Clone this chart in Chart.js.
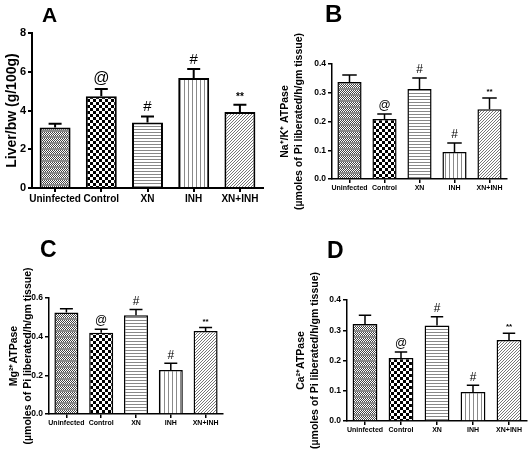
<!DOCTYPE html>
<html>
<head>
<meta charset="utf-8">
<script src="https://cdn.jsdelivr.net/npm/chart.js@4.4.1/dist/chart.umd.min.js"></script>
<style>
  html, body { margin: 0; padding: 0; background: #fff; }
  #wrap { position: relative; width: 529px; height: 460px; }
  #wrap canvas { position: absolute; }
</style>
</head>
<body>
<div id="wrap">
  <canvas id="chartA" width="265" height="230" style="left:0;top:0"></canvas>
  <canvas id="chartB" width="264" height="230" style="left:265px;top:0"></canvas>
  <canvas id="chartC" width="265" height="230" style="left:0;top:230px"></canvas>
  <canvas id="chartD" width="264" height="230" style="left:265px;top:230px"></canvas>
</div>
<script>
// ---- data ----
const groups = ['Uninfected', 'Control', 'XN', 'INH', 'XN+INH'];
const marks = ['', '@', '#', '#', '**'];

const liverBw = [3.12, 4.73, 3.38, 5.68, 3.92];
const liverBwSem = [0.20, 0.38, 0.31, 0.46, 0.38];

const naKAtpase = [0.337, 0.209, 0.313, 0.094, 0.243];
const naKSem = [0.025, 0.017, 0.038, 0.031, 0.039];

const mgAtpase = [0.525, 0.420, 0.511, 0.228, 0.429];
const mgSem = [0.020, 0.019, 0.029, 0.034, 0.019];

const caAtpase = [0.321, 0.208, 0.316, 0.096, 0.268];
const caSem = [0.029, 0.020, 0.029, 0.022, 0.022];

const ticksA = [0, 2, 4, 6, 8];
const ticksB = [0, 0.1, 0.2, 0.3, 0.4];
const ticksC = [0, 0.2, 0.4, 0.6];
const ticksD = [0, 0.1, 0.2, 0.3, 0.4];

const FONT = "'Liberation Sans', Arial, sans-serif";
Chart.defaults.font.family = FONT;
Chart.defaults.color = '#000';

// fill patterns, one per group
function makePattern(kind) {
  const c = document.createElement('canvas');
  const g = c.getContext('2d');
  if (kind === 'fine') {
    c.width = 4; c.height = 6;
    g.fillStyle = '#fff'; g.fillRect(0, 0, 4, 6);
    g.fillStyle = '#444';
    for (let x = 0; x < 4; x++) for (let y = 0; y < 4; y++) if ((x + y) % 2 === 0) g.fillRect(x, y, 1, 1);
    g.fillStyle = '#8a8a8a'; g.fillRect(0, 4, 4, 2);
  } else if (kind === 'check') {
    c.width = 6; c.height = 6;
    g.fillStyle = '#fff'; g.fillRect(0, 0, 6, 6);
    g.fillStyle = '#000'; g.fillRect(0, 0, 3, 3); g.fillRect(3, 3, 3, 3);
  } else if (kind === 'hlines') {
    c.width = 3; c.height = 3;
    g.fillStyle = '#fff'; g.fillRect(0, 0, 3, 3);
    g.fillStyle = '#888'; g.fillRect(0, 0, 3, 1);
  } else if (kind === 'vlines') {
    c.width = 4; c.height = 4;
    g.fillStyle = '#fff'; g.fillRect(0, 0, 4, 4);
    g.fillStyle = '#8a8a8a'; g.fillRect(0, 0, 1, 4);
  } else {
    c.width = 3; c.height = 3;
    g.fillStyle = '#fff'; g.fillRect(0, 0, 3, 3);
    g.fillStyle = '#777';
    for (let i = 0; i < 3; i++) g.fillRect(2 - i, i, 1, 1);
  }
  return g.createPattern(c, 'repeat');
}
const fills = ['fine', 'check', 'hlines', 'vlines', 'diag'].map(makePattern);

// error bars + significance marks above them
const errorBars = {
  id: 'errorBars',
  afterDatasetsDraw(chart, args, o) {
    const ctx = chart.ctx;
    const y = chart.scales.y;
    const values = chart.data.datasets[0].data;
    ctx.save();
    ctx.strokeStyle = '#000';
    ctx.fillStyle = '#000';
    ctx.lineWidth = o.lineWidth;
    chart.getDatasetMeta(0).data.forEach((bar, i) => {
      const top = y.getPixelForValue(values[i] + o.sem[i]);
      const half = bar.width * o.cap / 2;
      ctx.beginPath();
      ctx.moveTo(bar.x, bar.y);
      ctx.lineTo(bar.x, top);
      ctx.moveTo(bar.x - half, top);
      ctx.lineTo(bar.x + half, top);
      ctx.stroke();
      const m = o.marks[i];
      if (m) {
        ctx.font = o.markFonts[m];
        ctx.textAlign = 'center';
        ctx.textBaseline = 'bottom';
        ctx.fillText(m, bar.x, top - 2);
      }
    });
    ctx.restore();
  }
};

// big panel letter (A, B, C, D)
const panelLetter = {
  id: 'panelLetter',
  afterDraw(chart, args, o) {
    const ctx = chart.ctx;
    ctx.save();
    ctx.font = o.font;
    ctx.fillStyle = '#000';
    ctx.fillText(o.text, o.x, o.y);
    ctx.restore();
  }
};

function buildPanel(id, p) {
  new Chart(document.getElementById(id), {
    type: 'bar',
    data: {
      labels: groups,
      datasets: [{
        data: p.values,
        backgroundColor: fills,
        borderColor: '#000',
        borderWidth: p.lw,
        borderSkipped: 'bottom',
        barPercentage: p.barPct,
        categoryPercentage: 1
      }]
    },
    options: {
      responsive: false,
      animation: false,
      layout: { padding: p.padding },
      plugins: {
        legend: { display: false },
        tooltip: { enabled: false },
        errorBars: { sem: p.sem, marks: marks, lineWidth: p.lw, cap: p.cap, markFonts: p.markFonts },
        panelLetter: { text: p.letter, x: p.letterX, y: p.letterY, font: p.letterFont }
      },
      scales: {
        x: {
          grid: { offset: false, drawOnChartArea: false, tickLength: 4, color: '#000', lineWidth: p.lw },
          border: { color: '#000', width: p.lw },
          ticks: { color: '#000', font: { size: p.xFont, weight: 'bold' }, autoSkip: false, maxRotation: 0, padding: 1 },
          afterFit: s => { s.height = p.xHeight; }
        },
        y: {
          min: p.ticks[0],
          max: p.ticks[p.ticks.length - 1],
          afterBuildTicks: s => { s.ticks = p.ticks.map(v => ({ value: v })); },
          grid: { drawOnChartArea: false, tickLength: 4, color: '#000', lineWidth: p.lw },
          border: { color: '#000', width: p.lw },
          ticks: { color: '#000', font: { size: p.yFont, weight: 'bold' }, padding: 2, callback: p.fmt },
          title: { display: true, text: p.title, color: '#000', font: { size: p.titleFont, weight: 'bold', lineHeight: 1.25 }, padding: { top: p.titlePad, bottom: 0 } },
          afterFit: s => { s.width = p.yWidth; }
        }
      }
    },
    plugins: [errorBars, panelLetter]
  });
}

const smallMarks = { '@': '12px ' + FONT, '#': '12px ' + FONT, '**': 'bold 8px ' + FONT };
const oneDec = v => v.toFixed(1);

buildPanel('chartA', {
  values: liverBw, sem: liverBwSem, ticks: ticksA, fmt: v => v,
  padding: { top: 33, right: 2, left: 0, bottom: 0 }, yWidth: 32, xHeight: 42,
  lw: 2, cap: 0.42, barPct: 0.67, xFont: 10, yFont: 11,
  title: 'Liver/bw (g/100g)', titleFont: 14, titlePad: 3,
  letter: 'A', letterX: 42, letterY: 22, letterFont: 'bold 21px ' + FONT,
  markFonts: { '@': '16px ' + FONT, '#': '15px ' + FONT, '**': 'bold 10px ' + FONT }
});

buildPanel('chartB', {
  values: naKAtpase, sem: naKSem, ticks: ticksB, fmt: oneDec,
  padding: { top: 64, right: 22, left: 0, bottom: 0 }, yWidth: 67, xHeight: 51,
  lw: 1.5, cap: 0.6, barPct: 0.69, xFont: 7, yFont: 8.5,
  title: ['Na⁺/K⁺ ATPase', '(µmoles of Pi liberated/h/gm tissue)'], titleFont: 10.5, titlePad: 14,
  letter: 'B', letterX: 60, letterY: 22, letterFont: 'bold 24px ' + FONT,
  markFonts: smallMarks
});

buildPanel('chartC', {
  values: mgAtpase, sem: mgSem, ticks: ticksC, fmt: oneDec,
  padding: { top: 68, right: 42, left: 0, bottom: 0 }, yWidth: 49, xHeight: 46,
  lw: 1.5, cap: 0.54, barPct: 0.69, xFont: 7, yFont: 8.5,
  title: ['Mg²⁺ATPase', '(µmoles of Pi liberated/h/gm tissue)'], titleFont: 10.5, titlePad: 8,
  letter: 'C', letterX: 40, letterY: 27, letterFont: 'bold 23px ' + FONT,
  markFonts: smallMarks
});

buildPanel('chartD', {
  values: caAtpase, sem: caSem, ticks: ticksD, fmt: oneDec,
  padding: { top: 70, right: 2, left: 0, bottom: 0 }, yWidth: 82, xHeight: 39,
  lw: 1.5, cap: 0.5, barPct: 0.69, xFont: 7, yFont: 8.5,
  title: ['Ca²⁺ATPase', '(µmoles of Pi liberated/h/gm tissue)'], titleFont: 10.5, titlePad: 30,
  letter: 'D', letterX: 62, letterY: 28, letterFont: 'bold 23px ' + FONT,
  markFonts: smallMarks
});
</script>
</body>
</html>
